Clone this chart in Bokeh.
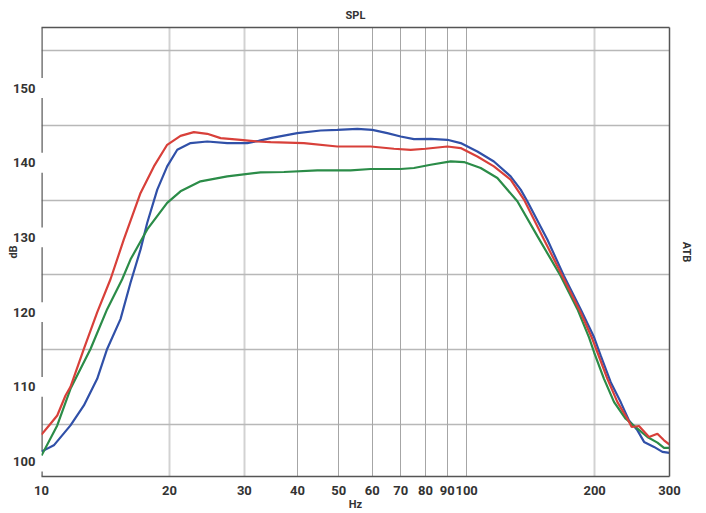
from bokeh.plotting import figure
from bokeh.models import FixedTicker, LinearAxis, LogAxis, Grid, Whisker, ColumnDataSource
from bokeh.embed import file_html
from bokeh.resources import INLINE

# ---- data ----
red_f = [10, 10.50, 10.89, 11.39, 11.70, 12.58, 13.52, 14.53, 15.62, 17.10, 18.38, 19.75,
         21.23, 22.82, 24.54, 26.38, 29.40, 32.18, 34.58, 41.41, 49.63, 59.45, 67.44, 73.84,
         80.09, 90.07, 96.80, 105.97, 115.9, 126.9, 136.4, 152.0, 169.4, 185.4, 197.6, 203.0,
         214.3, 226.3, 238.8, 244.5, 254.3, 268.5, 281.0, 291.2, 300]
red_db = [103.6, 105.07, 106.17, 108.84, 110.0, 115.07, 119.96, 124.4, 129.73, 135.96, 139.51, 142.4,
          143.6, 144.09, 143.87, 143.29, 143.07, 142.84, 142.76, 142.63, 142.17, 142.17, 141.87, 141.73,
          141.87, 142.17, 141.96, 140.84, 139.51, 137.73, 135.07, 129.73, 124.4, 119.96, 116.4, 114.63,
          111.07, 107.96, 105.73, 104.63, 104.76, 103.29, 103.73, 102.84, 102.27]

blue_f = [10, 10.69, 11.70, 12.58, 13.52, 14.27, 15.34, 16.20, 17.10, 17.73, 18.72, 19.75, 20.86,
          22.42, 24.54, 27.35, 30.48, 32.40, 34.58, 39.96, 45.35, 49.63, 55.32, 60.0, 65.07, 69.95,
          75.16, 82.29, 90.07, 96.80, 105.97, 115.9, 126.9, 134.0, 138.9, 154.8, 169.4, 185.4, 199.4,
          206.7, 218.2, 230.3, 240.9, 252.2, 261.4, 275.9, 288.7, 300]
blue_db = [101.33, 102.17, 104.84, 107.51, 111.07, 115.07, 119.07, 123.96, 128.4, 131.96, 136.4, 139.51, 141.73,
           142.63, 142.84, 142.63, 142.63, 142.93, 143.29, 143.96, 144.31, 144.4, 144.53, 144.4, 143.96, 143.51,
           143.16, 143.2, 143.07, 142.63, 141.51, 140.17, 138.17, 136.4, 134.84, 129.73, 124.84, 120.4, 116.63,
           114.17, 110.63, 107.96, 105.51, 104.17, 102.63, 101.96, 101.29, 101.16]

green_f = [10, 10.89, 11.70, 13.04, 14.27, 15.48, 16.20, 17.73, 19.75, 21.23, 23.66, 27.35, 32.75,
           37.17, 44.55, 53.35, 59.45, 69.95, 75.16, 82.29, 91.7, 98.55, 107.9, 118.1, 131.6, 146.7,
           166.4, 182.2, 194.0, 199.4, 210.4, 222.2, 236.6, 252.2, 266.2, 281.0, 291.2, 300]
green_db = [100.8, 104.84, 109.73, 115.07, 120.4, 124.4, 127.07, 131.07, 134.63, 136.17, 137.51, 138.17, 138.71,
            138.76, 138.97, 138.97, 139.16, 139.16, 139.29, 139.73, 140.17, 140.09, 139.29, 137.96, 134.84, 130.17,
            124.84, 120.4, 116.63, 114.63, 111.07, 107.96, 105.73, 104.4, 103.29, 102.53, 101.83, 101.83]

x_ticks = [10, 20, 30, 40, 50, 60, 70, 80, 90, 100, 200, 300]
x_tick_labels = ["10", "20", "30", "40", "50", "60", "70", "80", "90", "100", "200", "300"]
x_grid_light = [20, 30, 200]
x_grid_dark = [40, 50, 60, 70, 80, 90, 100]
y_ticks = [100, 110, 120, 130, 140, 150]
y_grid = [105, 115, 125, 135, 145, 155]

title_text = "SPL"
x_label = "Hz"
y_label = "dB"
right_label = "ATB"

# ---- styles ----
FONT = "Roboto"
AX = "#555555"
TXT = "#333333"
Y0, Y1 = 98, 158.1
X0, X1 = 10, 300

p = figure(width=706, height=513, x_axis_type="log", x_range=(X0, X1), y_range=(Y0, Y1),
           output_backend="svg", toolbar_location=None,
           min_border_left=41, min_border_right=37, min_border_top=27, min_border_bottom=35)
p.outline_line_color = None
p.background_fill_color = "white"
p.border_fill_color = "white"

p.title.text = title_text
p.title.align = "center"
p.title.vertical_align = "top"
p.title.text_font = FONT
p.title.text_font_style = "bold"
p.title.text_font_size = "11px"
p.title.text_line_height = 0.8
p.title.text_color = TXT
p.title.standoff = 8

# x axis
xa = p.xaxis[0]
xa.ticker = FixedTicker(ticks=x_ticks)
xa.major_label_overrides = {t: l for t, l in zip(x_ticks, x_tick_labels)}
xa.axis_line_color = AX
xa.axis_line_width = 1.5
xa.major_tick_line_color = None
xa.minor_tick_line_color = None
xa.major_tick_out = 0
xa.minor_tick_out = 0
xa.major_label_standoff = 9
xa.major_label_text_font = FONT
xa.major_label_text_font_style = "bold"
xa.major_label_text_font_size = "13px"
xa.major_label_text_color = TXT
xa.axis_label = x_label
xa.axis_label_standoff = 0
xa.axis_label_text_font = FONT
xa.axis_label_text_font_style = "bold"
xa.axis_label_text_font_size = "11px"
xa.axis_label_text_line_height = 0.8
xa.axis_label_text_color = TXT

# y axis (labels only; line drawn with gaps below)
ya = p.yaxis[0]
ya.ticker = FixedTicker(ticks=y_ticks)
ya.axis_line_color = None
ya.major_tick_line_color = None
ya.minor_tick_line_color = None
ya.major_tick_out = 0
ya.minor_tick_out = 0
ya.major_label_standoff = 6
ya.major_label_text_font = FONT
ya.major_label_text_font_style = "bold"
ya.major_label_text_font_size = "13px"
ya.major_label_text_color = TXT
ya.axis_label = y_label
ya.axis_label_standoff = -10
ya.axis_label_text_font = FONT
ya.axis_label_text_font_style = "bold"
ya.axis_label_text_font_size = "11px"
ya.axis_label_text_color = TXT

# borders top / right
top_ax = LogAxis(ticker=FixedTicker(ticks=[]), axis_line_color=AX, axis_line_width=1.5,
                 major_tick_line_color=None, minor_tick_line_color=None,
                 major_tick_out=0, minor_tick_out=0, major_label_standoff=0,
                 major_label_text_font_size="0px")
p.add_layout(top_ax, "above")
right_ax = LinearAxis(ticker=FixedTicker(ticks=[]), axis_line_color=AX, axis_line_width=1.5,
                      major_tick_line_color=None, minor_tick_line_color=None,
                      major_label_text_font_size="0px", axis_label=right_label,
                      axis_label_standoff=10, axis_label_text_font=FONT,
                      axis_label_text_font_style="bold", axis_label_text_font_size="11px",
                      axis_label_text_color=TXT)
p.add_layout(right_ax, "right")

# grids
p.xgrid.ticker = FixedTicker(ticks=x_grid_light)
p.xgrid.grid_line_color = "#d2d2d2"
p.xgrid.grid_line_width = 2
g2 = Grid(dimension=0, ticker=FixedTicker(ticks=x_grid_dark), grid_line_color="#a6a6a6",
          grid_line_width=1)
p.add_layout(g2)
p.ygrid.ticker = FixedTicker(ticks=y_grid)
p.ygrid.grid_line_color = "#b8b8b8"
p.ygrid.grid_line_width = 1.3

# left axis line with gaps around the labels
gap = 1.33
lower = [Y0] + [t + gap for t in y_ticks]
upper = [t - gap for t in y_ticks] + [Y1]
wsrc = ColumnDataSource(dict(base=[X0] * len(lower), lower=lower, upper=upper))
wh = Whisker(source=wsrc, base="base", lower="lower", upper="upper", dimension="height",
             lower_head=None, upper_head=None, line_color=AX, line_width=2.4)
p.add_layout(wh)

# curves
p.line(blue_f, blue_db, line_color="#3050a8", line_width=2.2)
p.line(green_f, green_db, line_color="#2b8c48", line_width=2.2)
p.line(red_f, red_db, line_color="#d8403a", line_width=2.2)

open("out.html", "w").write(file_html(p, INLINE))
